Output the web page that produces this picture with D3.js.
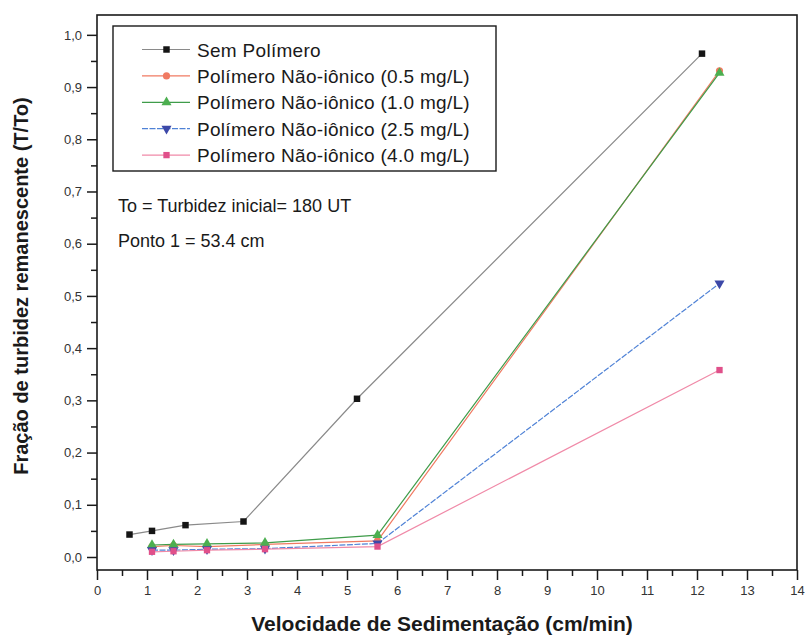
<!DOCTYPE html>
<html>
<head>
<meta charset="utf-8">
<script src="https://cdn.jsdelivr.net/npm/d3@7/dist/d3.min.js"></script>
<style>
  html, body { margin: 0; padding: 0; background: #fff; }
  svg { display: block; }
  text { font-family: "Liberation Sans", Arial, sans-serif; }
</style>
</head>
<body>
<svg id="chart" width="805" height="637"></svg>
<script>
// Sedimentation velocity (cm/min) and remaining turbidity fraction T/To
const semPolimeroX = [0.65, 1.1, 1.77, 2.93, 5.2, 12.1];
const semPolimeroY = [0.043, 0.050, 0.061, 0.068, 0.303, 0.964];

const polimeroX = [1.1, 1.53, 2.2, 3.36, 5.61, 12.45];
const pol05Y = [0.020, 0.022, 0.020, 0.024, 0.031, 0.931];
const pol10Y = [0.023, 0.024, 0.025, 0.027, 0.042, 0.927];
const pol25Y = [0.013, 0.013, 0.015, 0.016, 0.026, 0.524];
const pol40Y = [0.010, 0.011, 0.013, 0.015, 0.020, 0.358];

const seriesNames = [
  "Sem Polímero",
  "Polímero Não-iônico (0.5 mg/L)",
  "Polímero Não-iônico (1.0 mg/L)",
  "Polímero Não-iônico (2.5 mg/L)",
  "Polímero Não-iônico (4.0 mg/L)"
];

const xTicks = d3.range(0, 15, 1);
const yTicks = d3.range(0, 11, 1).map(d => d / 10);

const series = [
  { name: seriesNames[0], x: semPolimeroX, y: semPolimeroY, line: "#8a8a8a", fill: "#151515", symbol: d3.symbolSquare, size: 42, rot: 0 },
  { name: seriesNames[1], x: polimeroX, y: pol05Y, line: "#f07a62", fill: "#f07a62", symbol: d3.symbolCircle, size: 40, rot: 0 },
  { name: seriesNames[2], x: polimeroX, y: pol10Y, line: "#3f9c4a", fill: "#4caf50", symbol: d3.symbolTriangle, size: 44, rot: 0 },
  { name: seriesNames[3], x: polimeroX, y: pol25Y, line: "#4f82d6", fill: "#3c48a8", symbol: d3.symbolTriangle, size: 44, rot: 180, dash: "6,1.5" },
  { name: seriesNames[4], x: polimeroX, y: pol40Y, line: "#f08aa8", fill: "#e0508a", symbol: d3.symbolSquare, size: 40, rot: 0 }
];

const svg = d3.select("#chart");
const mLeft = 97, mRight = 797, mTop = 15, mBottom = 570;

const x = d3.scaleLinear().domain([0, 14]).range([mLeft, mRight]);
const y = d3.scaleLinear().domain([-0.0249, 1.038]).range([mBottom, mTop]);

// Plot frame
svg.append("rect")
  .attr("x", mLeft).attr("y", mTop)
  .attr("width", mRight - mLeft).attr("height", mBottom - mTop)
  .attr("fill", "none").attr("stroke", "#1a1a1a").attr("stroke-width", 1.6);

// Axes with major and minor ticks
const xAxis = d3.axisBottom(x).tickValues(xTicks).tickSize(10).tickPadding(6).tickFormat(d3.format("d"));
const xMinor = d3.axisBottom(x).tickValues(d3.range(0.5, 14, 1)).tickSize(6).tickFormat("");
const yAxis = d3.axisLeft(y).tickValues(yTicks).tickSize(10).tickPadding(5).tickFormat(d => d3.format(".1f")(d).replace(".", ","));
const yMinor = d3.axisLeft(y).tickValues(d3.range(0.05, 1.0, 0.1)).tickSize(6).tickFormat("");

function styleAxis(g) {
  g.select(".domain").remove();
  g.selectAll(".tick line").attr("stroke", "#1a1a1a").attr("stroke-width", 1.5);
  g.selectAll(".tick text").attr("fill", "#333").style("font-size", "13px")
    .style("font-family", "'Liberation Sans', Arial, sans-serif");
}

svg.append("g").attr("transform", `translate(0,${mBottom})`).call(xAxis).call(styleAxis);
svg.append("g").attr("transform", `translate(0,${mBottom})`).call(xMinor).call(styleAxis);
svg.append("g").attr("transform", `translate(${mLeft},0)`).call(yAxis).call(styleAxis);
svg.append("g").attr("transform", `translate(${mLeft},0)`).call(yMinor).call(styleAxis);

// Axis titles
svg.append("text")
  .attr("x", 442).attr("y", 631)
  .attr("text-anchor", "middle")
  .style("font-size", "21px").style("font-weight", "bold")
  .attr("fill", "#1a1a1a")
  .text("Velocidade de Sedimentação (cm/min)");

svg.append("text")
  .attr("transform", "translate(28,286) rotate(-90)")
  .attr("text-anchor", "middle")
  .style("font-size", "20px").style("font-weight", "bold")
  .attr("fill", "#1a1a1a")
  .text("Fração de turbidez remanescente (T/To)");

// Series lines and markers
const line = d3.line().x(d => x(d[0])).y(d => y(d[1]));

series.forEach(s => {
  const pts = s.x.map((v, i) => [v, s.y[i]]);
  svg.append("path")
    .datum(pts)
    .attr("d", line)
    .attr("fill", "none")
    .attr("stroke", s.line)
    .attr("stroke-width", 1.2)
    .attr("stroke-dasharray", s.dash || null);
});

series.forEach(s => {
  const pts = s.x.map((v, i) => [v, s.y[i]]);
  svg.append("g").selectAll("path")
    .data(pts)
    .join("path")
    .attr("d", d3.symbol().type(s.symbol).size(s.size))
    .attr("transform", d => `translate(${x(d[0])},${y(d[1])}) rotate(${s.rot})`)
    .attr("fill", s.fill);
});

// Legend
const lg = svg.append("g");
lg.append("rect")
  .attr("x", 113).attr("y", 26).attr("width", 383).attr("height", 145)
  .attr("fill", "#fff").attr("stroke", "#1a1a1a").attr("stroke-width", 1.4);

series.forEach((s, i) => {
  const cy = 49.5 + i * 26.4;
  lg.append("line")
    .attr("x1", 142).attr("x2", 190).attr("y1", cy).attr("y2", cy)
    .attr("stroke", s.line).attr("stroke-width", 1.2)
    .attr("stroke-dasharray", s.dash || null);
  lg.append("path")
    .attr("d", d3.symbol().type(s.symbol).size(s.size)())
    .attr("transform", `translate(166.5,${cy}) rotate(${s.rot})`)
    .attr("fill", s.fill);
  lg.append("text")
    .attr("x", 197).attr("y", cy + 7)
    .style("font-size", "19px")
    .style("letter-spacing", "0.3px")
    .attr("fill", "#1a1a1a")
    .text(s.name);
});

// Notes
svg.append("text").attr("x", 118).attr("y", 212)
  .style("font-size", "18px").attr("fill", "#1a1a1a")
  .text("To = Turbidez inicial= 180 UT");
svg.append("text").attr("x", 118).attr("y", 247)
  .style("font-size", "18px").attr("fill", "#1a1a1a")
  .text("Ponto 1 = 53.4 cm");
</script>
</body>
</html>
